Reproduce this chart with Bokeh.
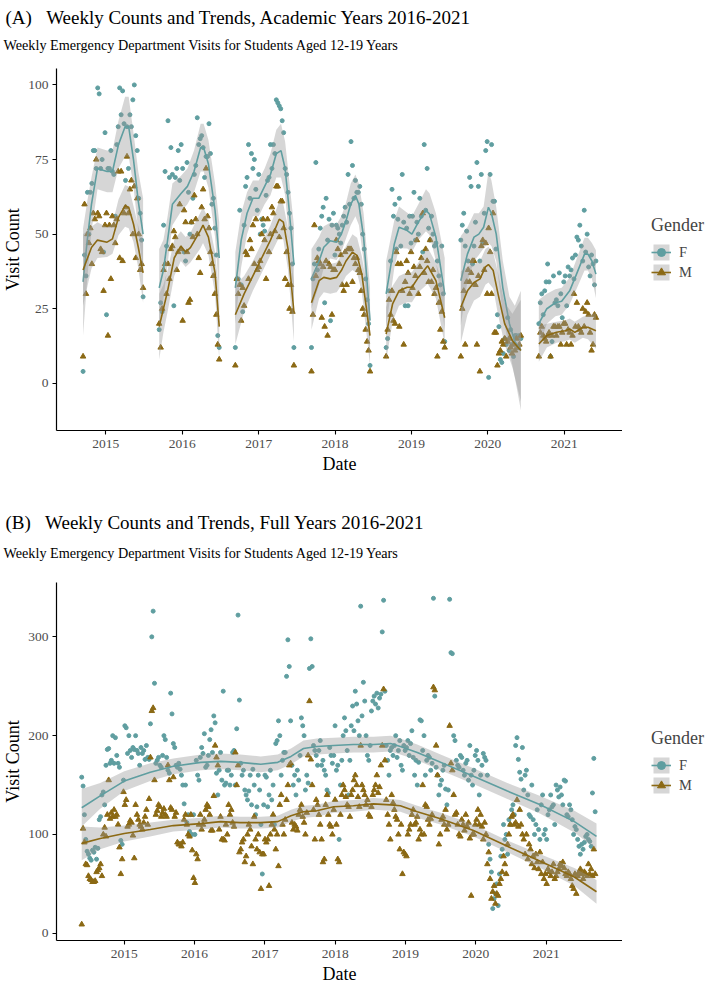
import pandas as pd
from bokeh.plotting import figure
from bokeh.layouts import column, row
from bokeh.models import (ColumnDataSource, Range1d, FixedTicker, Spacer,
                          DatetimeTickFormatter, Legend, LegendItem, Label)
from bokeh.embed import file_html
from bokeh.resources import INLINE

FONT = "Liberation Serif"
F_COLOR = "#5F9EA0"   # cadetblue
M_COLOR = "#8B6914"   # darkgoldenrod4
SE_COLOR = "#999999"

year_ticks = [2015, 2016, 2017, 2018, 2019, 2020, 2021]

# ---------------- Panel A: weekly visits within each academic year ----------------
season_starts = ["2014-09-14", "2015-09-13", "2016-09-11", "2017-09-10",
                 "2018-09-02", "2019-08-25", "2020-09-01"]

visits_f_a = [
    [4, 43, 36, 64, 50, 64, 67, 78, 78, 72, 99, 97, 72, 75, 44, 84, 23, 72, 72, 78, 71,
     70, 56, 80, 86, 99, 90, 98, 87, 68, 86, 72, 90, 86, 95, 100, 83, 78, 62, 57, 48, 29],
    [18, 27, 24, 53, 71, 46, 88, 69, 79, 70, 26, 69, 72, 78, 68, 80, 72, 44, 41, 74, 64,
     50, 54, 62, 70, 73, 89, 80, 82, 83, 79, 69, 76, 76, 87, 77, 60, 62, 52, 43, 16, 12],
    [12, 35, 35, 58, 33, 24, 53, 66, 69, 80, 62, 77, 72, 75, 65, 58, 70, 50, 55, 53, 51,
     63, 68, 69, 80, 72, 80, 77, 95, 94, 93, 92, 88, 84, 72, 70, 64, 57, 52, 40, 12],
    [12, 35, 40, 74, 38, 45, 52, 56, 59, 27, 62, 48, 55, 21, 53, 57, 43, 53, 52, 50, 47,
     53, 56, 59, 54, 70, 60, 81, 73, 62, 68, 64, 64, 66, 60, 50, 45, 35, 28, 20, 6],
    [12, 15, 31, 41, 65, 56, 60, 45, 55, 62, 46, 70, 54, 26, 52, 26, 56, 47, 56, 64, 48,
     54, 50, 62, 56, 44, 80, 58, 72, 52, 48, 56, 50, 46, 47, 41, 36, 33, 46, 30, 14],
    [48, 53, 57, 46, 51, 41, 69, 66, 40, 46, 54, 74, 66, 41, 70, 47, 57, 78, 81, 2, 70,
     80, 61, 61, 45, 23, 19, 8, 7, 10, 15, 13, 22, 11, 18, 13, 9, 16, 16, 12, 16, 15],
    [20, 27, 30, 23, 31, 34, 40, 34, 9, 14, 36, 27, 28, 26, 37, 30, 22, 34, 36, 26,
     39, 36, 38, 42, 35, 43, 49, 48, 53, 46, 41, 58, 44, 50, 39, 36, 43, 40, 33, 41],
]
visits_m_a = [
    [9, 60, 30, 50, 47, 52, 40, 57, 55, 75, 57, 56, 45, 44, 31, 53, 57, 16, 53, 35, 56,
     53, 47, 55, 71, 42, 71, 41, 57, 59, 76, 57, 65, 68, 50, 66, 42, 62, 50, 38, 40, 32],
    [20, 12, 25, 38, 40, 30, 40, 35, 45, 46, 51, 49, 38, 44, 60, 45, 21, 58, 54, 44, 27,
     28, 54, 49, 63, 55, 50, 42, 37, 59, 65, 55, 72, 56, 52, 44, 40, 36, 30, 23, 13, 8],
    [6, 35, 30, 33, 21, 32, 26, 44, 43, 35, 48, 45, 53, 40, 55, 38, 39, 41, 50, 55, 48,
     35, 55, 44, 50, 59, 57, 51, 66, 66, 49, 61, 61, 52, 35, 44, 33, 25, 33, 24, 6],
    [4, 23, 53, 36, 42, 41, 40, 22, 39, 19, 41, 16, 40, 39, 23, 38, 38, 48, 45, 40, 43,
     33, 31, 44, 33, 45, 45, 45, 34, 42, 40, 42, 38, 37, 31, 25, 23, 18, 14, 11, 4],
    [9, 18, 28, 23, 31, 21, 20, 44, 40, 19, 40, 31, 13, 34, 41, 37, 30, 44, 32, 39, 36,
     48, 30, 39, 42, 57, 37, 45, 41, 34, 48, 34, 38, 30, 32, 9, 27, 18, 24, 14, 12],
    [9, 25, 31, 13, 34, 38, 34, 37, 41, 41, 33, 13, 36, 4, 46, 48, 38, 47, 30, 52, 44,
     30, 57, 17, 17, 6, 10, 11, 14, 13, 15, 9, 14, 15, 12, 10, 13, 11, 15, 12, 13, 16],
    [9, 17, 19, 16, 15, 14, 16, 17, 9, 16, 19, 19, 16, 19, 19, 13, 17, 20, 20, 13,
     18, 17, 13, 16, 30, 19, 27, 19, 18, 17, 25, 19, 24, 27, 23, 17, 11, 13, 23, 22],
]

# loess trend per academic year: position within the year (0 = first week, 1 = last week),
# fitted value and half-width of the 95% band
trend_a_t_f = [
    [0, 0.07, 0.14, 0.24, 0.4, 0.49, 0.59, 0.7, 0.76, 0.84, 0.92, 1],
    [0, 0.07, 0.14, 0.22, 0.36, 0.47, 0.58, 0.69, 0.74, 0.82, 0.93, 1],
    [0, 0.1, 0.2, 0.3, 0.4, 0.5, 0.6, 0.7, 0.78, 0.85, 0.92, 1],
    [0, 0.13, 0.21, 0.32, 0.43, 0.51, 0.59, 0.67, 0.75, 0.81, 0.89, 1],
    [0, 0.14, 0.22, 0.36, 0.44, 0.55, 0.68, 0.74, 0.85, 1],
    [0, 0.11, 0.22, 0.3, 0.38, 0.46, 0.51, 0.59, 0.7, 0.81, 0.9, 1],
    [0, 0.14, 0.29, 0.4, 0.54, 0.66, 0.8, 0.86, 0.93, 1],
]
trend_a_f = [
    [34, 48, 60, 72, 71, 71, 80, 86, 86, 75, 61, 50],
    [32, 38, 48, 60, 63.5, 66, 71, 79, 79, 73.5, 58, 42],
    [32, 48, 57, 62, 62, 66, 70, 77, 78, 72, 58, 40],
    [35, 41, 45.6, 47.8, 47.3, 50, 54.5, 60, 63, 60, 49, 21],
    [30, 46.7, 52.3, 51.2, 50, 54, 58, 56.7, 49, 30],
    [34.4, 43.3, 49, 50, 52.3, 59, 57, 50, 32, 20, 14, 11],
    [20, 25, 27, 27.5, 31, 36.6, 43.3, 43.3, 41, 36.6],
]
trend_a_hw_f = [
    [18, 13, 9, 7, 7, 7, 8, 10, 10, 9, 10, 12],
    [13, 10, 8, 7, 6, 6, 7, 8, 8, 8, 9, 12],
    [12, 9, 7, 6, 6, 6, 7, 8, 9, 9, 10, 13],
    [10, 8, 7, 6, 6, 6, 6, 7, 7, 7, 8, 11],
    [11, 8, 7, 6, 6, 6, 7, 7, 8, 12],
    [15, 9, 8, 7, 7, 12, 11, 9, 9, 9, 12, 20],
    [8, 5, 4.5, 4.5, 4.5, 5, 5.5, 5.5, 6, 8],
]
trend_a_t_m = [
    [0, 0.14, 0.24, 0.4, 0.49, 0.59, 0.7, 0.76, 0.84, 0.92, 1],
    [0, 0.07, 0.14, 0.25, 0.36, 0.44, 0.52, 0.68, 0.73, 0.82, 0.93, 1],
    [0, 0.15, 0.3, 0.45, 0.6, 0.75, 0.82, 0.9, 1],
    [0, 0.13, 0.21, 0.32, 0.43, 0.51, 0.59, 0.7, 0.78, 0.86, 1],
    [0, 0.11, 0.22, 0.36, 0.44, 0.55, 0.71, 0.85, 1],
    [0, 0.11, 0.22, 0.32, 0.41, 0.46, 0.54, 0.62, 0.73, 0.86, 1],
    [0, 0.14, 0.31, 0.46, 0.54, 0.63, 0.77, 0.86, 1],
]
trend_a_m = [
    [38, 45.5, 48, 47.3, 48.4, 55.6, 59.5, 59, 53.4, 45.6, 37],
    [19, 25, 31, 42, 46, 44, 45.5, 51, 53, 49, 37, 19],
    [23, 30, 36, 42, 48, 55, 54, 45, 24],
    [27, 34.4, 35.5, 35, 35.5, 37.8, 41, 44, 42.8, 36.6, 16],
    [16.5, 26.6, 31, 32.2, 32.2, 35.5, 39.4, 34.4, 22],
    [25.5, 31, 33.8, 35, 39, 39.8, 37.8, 30, 20, 14.3, 11],
    [13.2, 16, 17.1, 17.6, 18.2, 17.1, 18.8, 18.8, 17.6],
]
trend_a_hw_m = [
    [12, 7, 6, 5, 5, 6, 7, 7, 6, 7, 10],
    [11, 8, 7, 6, 5, 5, 5, 6, 6, 6, 7, 11],
    [10, 6, 5, 5, 5, 6, 6, 7, 10],
    [9, 6, 5, 5, 5, 5, 5, 6, 6, 6, 10],
    [9, 6, 5, 5, 5, 5, 6, 6, 9],
    [12, 8, 6, 6, 6, 6, 6, 7, 7, 9, 17],
    [6, 4, 3.5, 3.5, 3.5, 3.5, 3.5, 4, 6],
]

# ---------------- Panel B: weekly visits, full calendar years ----------------
first_week_b = "2014-05-25"

f_b_2014 = [158, 149, 120, 95, 83, 80, 76, 74, 84, 82, 87, 75, 86, 115, 118, 140, 143, 130,
            170, 186, 187, 172, 175, 200, 172, 198, 180, 172, 168, 94, 90]
f_b_2015 = [155, 210, 208, 182, 200, 185, 178, 188, 186, 200, 185, 182, 170, 188, 182, 185,
            176, 190, 178, 176, 212, 300, 326, 253, 172, 175, 178, 170, 168, 180, 200, 196,
            178, 165, 162, 243, 222, 192, 188, 170, 168, 172, 166, 160, 150, 131, 150, 112,
            120, 103, 120, 100]
f_b_2016 = [120, 100, 175, 160, 155, 178, 188, 182, 202, 168, 170, 180, 196, 206, 183, 220,
            213, 162, 140, 165, 183, 155, 245, 150, 152, 165, 165, 150, 160, 183, 185, 150,
            207, 322, 236, 172, 160, 165, 145, 140, 135, 144, 160, 130, 166, 150, 120, 128,
            160, 145, 110, 60]
f_b_2017 = [130, 160, 158, 128, 140, 165, 135, 150, 110, 192, 195, 215, 200, 160, 175, 183,
            183, 260, 297, 270, 215, 170, 150, 160, 140, 165, 155, 180, 218, 210, 200, 145,
            160, 152, 268, 298, 270, 190, 185, 180, 170, 185, 195, 170, 175, 165, 160, 145,
            142, 188, 180, 172]
f_b_2018 = [180, 210, 165, 170, 95, 150, 175, 200, 218, 205, 185, 140, 175, 210, 230, 205,
            245, 232, 215, 200, 331, 220, 254, 235, 200, 180, 175, 190, 225, 235, 240, 232,
            243, 228, 238, 242, 305, 337, 245, 190, 175, 160, 185, 188, 180, 190, 200, 178,
            185, 195, 170, 165]
f_b_2019 = [190, 185, 188, 195, 180, 192, 205, 178, 160, 175, 150, 173, 216, 215, 185, 200,
            160, 175, 180, 178, 165, 172, 339, 240, 168, 160, 140, 150, 155, 165, 170, 146,
            130, 145, 338, 284, 283, 200, 195, 175, 170, 168, 180, 178, 165, 160, 172, 175,
            155, 190, 160, 150]
f_b_2020 = [165, 180, 185, 175, 140, 160, 170, 182, 178, 175, 160, 90, 75, 62, 25, 35,
            40, 50, 28, 60, 78, 85, 110, 95, 100, 80, 115, 110, 125, 130, 120, 190,
            198, 176, 163, 156, 188, 145, 160, 165, 140, 120, 118, 150, 115, 100, 110, 125,
            105, 95, 130, 140]
f_b_2021 = [100, 105, 95, 120, 125, 140, 128, 130, 110, 150, 145, 138, 148, 140, 130, 155,
            154, 120, 118, 130, 125, 115, 100, 108, 105, 95, 88, 80, 90, 85, 92, 98,
            100, 95, 93, 88, 142, 177, 123]

m_b_2014 = [9, 106, 92, 70, 69, 58, 55, 54, 52, 52, 53, 62, 64, 66, 70, 58, 100, 107,
            98, 120, 155, 116, 122, 118, 125, 118, 120, 110, 87, 60, 75]
m_b_2015 = [143, 130, 135, 108, 110, 114, 112, 99, 76, 130, 120, 115, 110, 108, 105, 112,
            118, 125, 110, 136, 178, 225, 228, 155, 120, 124, 130, 128, 118, 122, 126, 120,
            118, 170, 155, 127, 125, 158, 118, 122, 92, 90, 90, 88, 92, 115, 120, 110,
            100, 98, 120, 84]
m_b_2016 = [56, 51, 80, 75, 110, 120, 105, 110, 115, 125, 130, 128, 120, 104, 104, 139,
            190, 178, 170, 105, 118, 95, 95, 94, 110, 100, 130, 120, 125, 112, 108, 183,
            150, 170, 82, 85, 92, 95, 72, 78, 100, 110, 105, 88, 70, 118, 95, 85,
            100, 82, 45, 80]
m_b_2017 = [80, 95, 92, 95, 48, 100, 110, 120, 105, 85, 100, 68, 130, 140, 110, 100,
            115, 135, 150, 170, 172, 112, 105, 110, 108, 104, 120, 125, 130, 118, 112, 100,
            122, 180, 235, 176, 150, 125, 95, 135, 130, 120, 110, 95, 72, 75, 130, 140,
            120, 110, 108, 100]
m_b_2018 = [125, 135, 110, 75, 72, 120, 140, 150, 145, 138, 130, 128, 118, 140, 145, 155,
            160, 150, 138, 128, 190, 150, 145, 140, 130, 135, 120, 118, 128, 140, 145, 150,
            160, 142, 148, 170, 190, 247, 175, 135, 120, 110, 95, 140, 132, 125, 118, 115,
            100, 85, 110, 60]
m_b_2019 = [82, 80, 78, 100, 105, 110, 120, 125, 110, 112, 118, 95, 105, 100, 150, 100,
            130, 128, 115, 110, 116, 120, 249, 246, 190, 160, 90, 100, 115, 118, 110, 125,
            105, 110, 210, 172, 165, 140, 120, 122, 110, 100, 98, 115, 110, 104, 120, 108,
            112, 96, 38, 100]
m_b_2020 = [100, 110, 115, 125, 110, 120, 108, 95, 112, 100, 70, 82, 55, 35, 42, 48,
            30, 40, 38, 50, 55, 62, 78, 70, 60, 90, 100, 110, 118, 120, 110, 112,
            135, 108, 125, 110, 100, 95, 80, 100, 75, 90, 85, 70, 78, 66, 80, 72,
            65, 82, 60, 72]
m_b_2021 = [55, 60, 50, 65, 62, 58, 62, 70, 55, 58, 62, 65, 70, 68, 72, 66,
            60, 58, 62, 60, 55, 48, 45, 60, 40, 58, 62, 65, 60, 55, 62, 60,
            58, 70, 60, 65, 58, 85, 60]

visits_f_b = f_b_2014 + f_b_2015 + f_b_2016 + f_b_2017 + f_b_2018 + f_b_2019 + f_b_2020 + f_b_2021
visits_m_b = m_b_2014 + m_b_2015 + m_b_2016 + m_b_2017 + m_b_2018 + m_b_2019 + m_b_2020 + m_b_2021

# loess trend over the whole period, with 95% band half-widths
trend_b_dates = ["2014-05-25", "2014-08-29", "2015-01-01", "2015-05-16", "2015-09-13",
                 "2016-02-03", "2016-05-16", "2016-08-25", "2016-12-10", "2017-03-08",
                 "2017-05-16", "2017-07-20", "2017-09-27", "2017-12-24", "2018-04-05",
                 "2018-07-19", "2018-10-15", "2018-12-05", "2019-03-03", "2019-07-02",
                 "2019-12-20", "2020-06-13", "2020-12-01", "2021-05-27", "2021-09-19"]
trend_b_f = [127, 139, 154, 163, 169, 173, 174, 173, 171, 173, 179, 187, 189, 190, 191,
             191, 192, 189, 183, 173, 159, 144, 130, 113, 98]
trend_b_hw_f = [19, 13, 10, 9, 8, 8, 8, 8, 8, 8, 8, 8, 8, 8, 8, 8, 8, 8, 8, 8, 8, 8, 9, 11, 13]
trend_b_m = [91, 96, 101, 105, 109, 111, 113, 112, 112, 113, 119, 123, 124, 128, 129,
             131, 130, 129, 123, 116, 104, 88, 73, 57, 42]
trend_b_hw_m = [17, 11, 8, 7, 6, 6, 6, 6, 6, 6, 6, 6, 6, 6, 6, 6, 6, 6, 6, 6, 6, 6, 7, 9, 12]

PAGE_W = 709
PLOT_W = 622       # width of each chart; the legend column takes the rest
LEGEND_INSET = 29  # gap between the chart and the legend keys
LEGEND_TOP = 155   # legend title top, measured from the chart's top edge


def blank_figure(width, height):
    p = figure(width=width, height=height, x_range=Range1d(0, width),
               y_range=Range1d(0, height), output_backend="svg", toolbar_location=None,
               x_axis_location=None, y_axis_location=None, min_border=0)
    p.grid.visible = False
    p.outline_line_color = None
    p.background_fill_color = "white"
    p.border_fill_color = "white"
    return p


def title_block(height, title, subtitle, title_y, sub_y):
    # title_y / sub_y: distance of each text's middle from the top of the block
    p = blank_figure(PAGE_W, height)
    p.add_layout(Label(x=5, y=height - title_y, x_units="screen", y_units="screen",
                       text=title, text_font=FONT, text_font_size="19px",
                       text_color="black", text_align="left", text_baseline="middle"))
    p.add_layout(Label(x=3, y=height - sub_y, x_units="screen", y_units="screen",
                       text=subtitle, text_font=FONT, text_font_size="14.2px",
                       text_color="black", text_align="left", text_baseline="middle"))
    return p


def legend_block(height):
    w = PAGE_W - PLOT_W - LEGEND_INSET
    p = blank_figure(w, height - LEGEND_TOP)
    items = []
    for label, color, marker, size in (("F", F_COLOR, "circle", 4),
                                       ("M", M_COLOR, "triangle", 5.5)):
        # key glyphs only: a single point parked outside the visible area
        band = p.varea(x=[-60, -50], y1=[-60, -60], y2=[-50, -50],
                       fill_color=SE_COLOR, fill_alpha=0.4)
        line = p.line(x=[-60, -50], y=[-55, -55], line_color=color, line_width=1.6)
        pts = p.scatter(x=[-55], y=[-55], marker=marker, size=size,
                        fill_color=color, line_color=color)
        items.append(LegendItem(label=label, renderers=[band, line, pts]))
    legend = Legend(items=items, title="Gender", location="top_left",
                    border_line_color=None, background_fill_alpha=0,
                    title_text_font=FONT, title_text_font_size="18px",
                    title_text_font_style="normal", title_standoff=6,
                    label_text_font=FONT, label_text_font_size="14.5px",
                    glyph_width=20, glyph_height=20, spacing=0,
                    label_standoff=8, padding=0, margin=0)
    p.add_layout(legend, "center")
    return row(Spacer(width=LEGEND_INSET, height=height),
               column(Spacer(width=w, height=LEGEND_TOP), p, spacing=0), spacing=0)


def make_chart(height, x_start, x_end, y_start, y_end, y_ticks, top, bottom):
    p = figure(width=PLOT_W, height=height, x_axis_type="datetime",
               x_range=Range1d(pd.Timestamp(x_start), pd.Timestamp(x_end)),
               y_range=Range1d(y_start, y_end),
               output_backend="svg", toolbar_location=None,
               min_border_left=55, min_border_right=0,
               min_border_top=top, min_border_bottom=bottom)
    p.background_fill_color = "white"
    p.border_fill_color = "white"
    p.outline_line_color = None
    p.xgrid.visible = False
    p.ygrid.visible = False
    p.xaxis.ticker = FixedTicker(
        ticks=[pd.Timestamp(f"{y}-01-01").value // 10**6 for y in year_ticks])
    p.xaxis.formatter = DatetimeTickFormatter(
        years="%Y", months="%Y", days="%Y", hours="%Y", hourmin="%Y",
        minutes="%Y", minsec="%Y", seconds="%Y", milliseconds="%Y")
    p.yaxis.ticker = FixedTicker(ticks=y_ticks)
    p.xaxis.axis_label = "Date"
    p.yaxis.axis_label = "Visit Count"
    for ax in (p.xaxis[0], p.yaxis[0]):
        ax.axis_line_color = "black"
        ax.axis_line_width = 1.2
        ax.major_tick_line_color = "black"
        ax.major_tick_line_width = 1.1
        ax.major_tick_out = 4
        ax.major_tick_in = 0
        ax.minor_tick_line_color = None
        ax.major_label_text_font = FONT
        ax.major_label_text_font_size = "13.5px"
        ax.major_label_text_color = "#4d4d4d"
        ax.major_label_standoff = 5
        ax.axis_label_text_font = FONT
        ax.axis_label_text_font_size = "18px"
        ax.axis_label_text_font_style = "normal"
        ax.axis_label_text_color = "black"
        ax.axis_label_standoff = 3
    p.yaxis[0].axis_label_standoff = 2
    p.yaxis[0].major_label_standoff = 4
    return p


def draw_trend(p, x, mid, hw, color):
    src = ColumnDataSource(data=dict(
        x=x, y=mid,
        lo=[m - h for m, h in zip(mid, hw)],
        hi=[m + h for m, h in zip(mid, hw)]))
    p.varea(x="x", y1="lo", y2="hi", source=src, fill_color=SE_COLOR, fill_alpha=0.4)
    p.line(x="x", y="y", source=src, line_color=color, line_width=1.6)


def season_knots(start, n, ts):
    base = pd.Timestamp(start)
    return pd.DatetimeIndex([base + pd.Timedelta(days=7 * (n - 1) * t) for t in ts]).values


# ---------------- panel A ----------------
title_a = title_block(60, "(A)\u00a0\u00a0\u00a0Weekly Counts and Trends, Academic Years 2016-2021",
                      "Weekly Emergency Department Visits for Students Aged 12-19 Years", 17, 44)
pa = make_chart(433, "2014-05-10", "2021-10-06", -15.8, 105.5, [0, 25, 50, 75, 100], 8, 63)

dates_a, ya_f, ya_m = [], [], []
for start, vf, vm in zip(season_starts, visits_f_a, visits_m_a):
    dates_a += list(pd.date_range(start, periods=len(vf), freq="7D"))
    ya_f += vf
    ya_m += vm
dates_a = pd.DatetimeIndex(dates_a).values
pa.scatter(x=dates_a, y=ya_f, marker="circle", size=4, fill_color=F_COLOR, line_color=F_COLOR)
pa.scatter(x=dates_a, y=ya_m, marker="triangle", size=5.5, fill_color=M_COLOR, line_color=M_COLOR)

for t_sets, mids, hws, color, counts in (
        (trend_a_t_f, trend_a_f, trend_a_hw_f, F_COLOR, visits_f_a),
        (trend_a_t_m, trend_a_m, trend_a_hw_m, M_COLOR, visits_m_a)):
    for i, start in enumerate(season_starts):
        draw_trend(pa, season_knots(start, len(counts[i]), t_sets[i]), mids[i], hws[i], color)

legend_a = legend_block(433)

# ---------------- panel B ----------------
title_b = title_block(80, "(B)\u00a0\u00a0\u00a0Weekly Counts and Trends, Full Years 2016-2021",
                      "Weekly Emergency Department Visits for Students Aged 12-19 Years", 29, 59)
pb = make_chart(413, "2014-01-14", "2022-02-01", -7.3, 355, [0, 100, 200, 300], 9, 43)

dates_b = pd.date_range(first_week_b, periods=len(visits_f_b), freq="7D").values
pb.scatter(x=dates_b, y=visits_f_b, marker="circle", size=4, fill_color=F_COLOR, line_color=F_COLOR)
pb.scatter(x=dates_b, y=visits_m_b, marker="triangle", size=5.5, fill_color=M_COLOR, line_color=M_COLOR)

knots_b = pd.DatetimeIndex(trend_b_dates).values
draw_trend(pb, knots_b, trend_b_f, trend_b_hw_f, F_COLOR)
draw_trend(pb, knots_b, trend_b_m, trend_b_hw_m, M_COLOR)

legend_b = legend_block(413)

layout = column(title_a, row(pa, legend_a, spacing=0),
                title_b, row(pb, legend_b, spacing=0), spacing=0)
open("out.html", "w").write(file_html(layout, INLINE))
